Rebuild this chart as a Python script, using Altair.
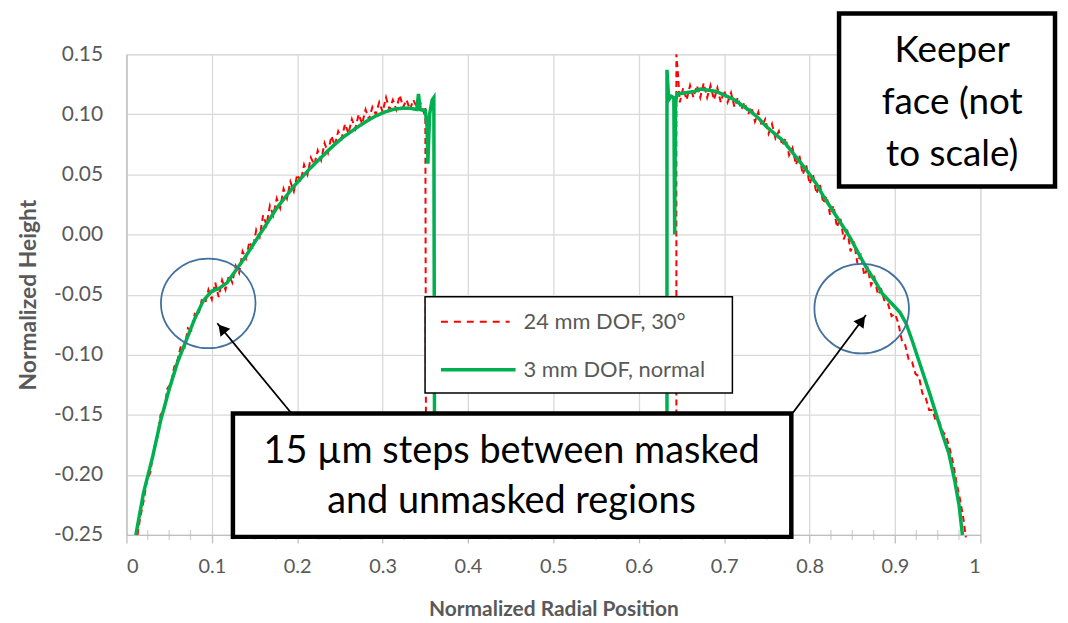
import altair as alt
import pandas as pd

# ---------------- data ----------------
green_left_x = [0.011, 0.020, 0.031, 0.040, 0.050, 0.060, 0.070, 0.080, 0.090, 0.100,
                0.108, 0.118, 0.128, 0.138, 0.147, 0.157, 0.167, 0.176, 0.186, 0.196,
                0.206, 0.215, 0.225, 0.235, 0.244, 0.254, 0.264, 0.274, 0.283, 0.293,
                0.303, 0.312, 0.322, 0.332, 0.340, 0.342, 0.344, 0.350, 0.352, 0.353,
                0.355, 0.358, 0.360, 0.361]
green_left_y = [-0.250, -0.215, -0.184, -0.155, -0.129, -0.106, -0.088, -0.070, -0.055, -0.047,
                -0.045, -0.040, -0.030, -0.020, -0.010, 0.001, 0.012, 0.022, 0.031, 0.040,
                0.048, 0.055, 0.062, 0.069, 0.075, 0.081, 0.086, 0.091, 0.095, 0.099,
                0.102, 0.104, 0.105, 0.105, 0.104, 0.117, 0.104, 0.103, 0.090, 0.059,
                0.100, 0.112, 0.114, -0.250]

green_right_x = [0.633, 0.633, 0.635, 0.638, 0.641, 0.642, 0.643, 0.645, 0.655, 0.665,
                 0.672, 0.682, 0.691, 0.700, 0.711, 0.720, 0.730, 0.740, 0.749, 0.759,
                 0.769, 0.778, 0.788, 0.798, 0.808, 0.817, 0.827, 0.837, 0.847, 0.856,
                 0.866, 0.876, 0.885, 0.897, 0.906, 0.913, 0.920, 0.927, 0.934, 0.941,
                 0.948, 0.955, 0.963, 0.970, 0.975, 0.979]
green_right_y = [-0.250, 0.137, 0.112, 0.115, 0.114, 0.000, 0.110, 0.117, 0.118, 0.119,
                 0.121, 0.120, 0.119, 0.116, 0.1125, 0.108, 0.103, 0.097, 0.090, 0.084,
                 0.078, 0.070, 0.061, 0.052, 0.042, 0.031, 0.020, 0.009, -0.002, -0.014,
                 -0.027, -0.038, -0.049, -0.058, -0.065, -0.074, -0.088, -0.103, -0.118, -0.133,
                 -0.149, -0.165, -0.182, -0.205, -0.225, -0.250]

red_left_x = [0.013, 0.016, 0.020, 0.024, 0.028, 0.032, 0.036, 0.040, 0.044, 0.048,
              0.052, 0.056, 0.060, 0.064, 0.068, 0.072, 0.076, 0.080, 0.084, 0.088,
              0.092, 0.096, 0.100, 0.104, 0.108, 0.112, 0.116, 0.120, 0.124, 0.128,
              0.132, 0.136, 0.140, 0.144, 0.148, 0.152, 0.156, 0.160, 0.164, 0.168,
              0.172, 0.176, 0.180, 0.184, 0.188, 0.192, 0.196, 0.200, 0.204, 0.208,
              0.212, 0.216, 0.220, 0.224, 0.228, 0.232, 0.236, 0.240, 0.244, 0.248,
              0.252, 0.256, 0.260, 0.264, 0.268, 0.272, 0.276, 0.280, 0.284, 0.288,
              0.292, 0.296, 0.300, 0.304, 0.308, 0.312, 0.316, 0.320, 0.324, 0.328,
              0.332, 0.336, 0.340, 0.344, 0.348, 0.350, 0.351]
red_left_y = [-0.250, -0.236, -0.222, -0.205, -0.198, -0.178, -0.170, -0.150, -0.146, -0.128,
              -0.124, -0.110, -0.104, -0.092, -0.094, -0.078, -0.080, -0.066, -0.068, -0.055,
              -0.058, -0.046, -0.054, -0.040, -0.052, -0.038, -0.046, -0.034, -0.040, -0.026,
              -0.032, -0.014, -0.020, -0.006, -0.012, 0.004, -0.002, 0.016, 0.008, 0.024,
              0.016, 0.030, 0.022, 0.038, 0.030, 0.044, 0.036, 0.050, 0.044, 0.058,
              0.050, 0.064, 0.058, 0.070, 0.062, 0.076, 0.068, 0.082, 0.074, 0.086,
              0.080, 0.092, 0.084, 0.096, 0.088, 0.100, 0.092, 0.104, 0.096, 0.106,
              0.100, 0.110, 0.102, 0.114, 0.104, 0.112, 0.104, 0.116, 0.106, 0.112,
              0.104, 0.112, 0.106, 0.110, 0.102, 0.106, -0.250]

red_right_x = [0.644, 0.644, 0.646, 0.648, 0.652, 0.656, 0.660, 0.664, 0.668, 0.672,
               0.676, 0.680, 0.684, 0.688, 0.692, 0.696, 0.700, 0.704, 0.708, 0.712,
               0.716, 0.720, 0.724, 0.728, 0.732, 0.736, 0.740, 0.744, 0.748, 0.752,
               0.756, 0.760, 0.764, 0.768, 0.772, 0.776, 0.780, 0.784, 0.788, 0.792,
               0.796, 0.800, 0.804, 0.808, 0.812, 0.816, 0.820, 0.824, 0.828, 0.832,
               0.836, 0.840, 0.844, 0.848, 0.852, 0.856, 0.860, 0.864, 0.868, 0.872,
               0.876, 0.880, 0.884, 0.888, 0.892, 0.896, 0.900, 0.904, 0.908, 0.912,
               0.916, 0.920, 0.924, 0.928, 0.932, 0.936, 0.940, 0.944, 0.948, 0.952,
               0.956, 0.960, 0.964, 0.968, 0.972, 0.976, 0.980, 0.983]
red_right_y = [-0.250, 0.150, 0.132, 0.110, 0.122, 0.112, 0.124, 0.114, 0.124, 0.114,
               0.126, 0.114, 0.124, 0.112, 0.122, 0.110, 0.120, 0.110, 0.118, 0.106,
               0.114, 0.104, 0.110, 0.100, 0.106, 0.094, 0.102, 0.090, 0.096, 0.084,
               0.092, 0.080, 0.086, 0.074, 0.080, 0.066, 0.072, 0.058, 0.066, 0.050,
               0.058, 0.042, 0.050, 0.034, 0.042, 0.026, 0.032, 0.016, 0.024, 0.006,
               0.014, -0.004, 0.004, -0.014, -0.006, -0.024, -0.016, -0.034, -0.028, -0.042,
               -0.036, -0.050, -0.046, -0.056, -0.058, -0.068, -0.066, -0.074, -0.088, -0.092,
               -0.104, -0.106, -0.116, -0.118, -0.132, -0.136, -0.146, -0.146, -0.156, -0.156,
               -0.164, -0.168, -0.178, -0.190, -0.206, -0.220, -0.236, -0.252]

x_ticks = [0, 0.1, 0.2, 0.3, 0.4, 0.5, 0.6, 0.7, 0.8, 0.9, 1.0]
y_ticks = [-0.25, -0.2, -0.15, -0.1, -0.05, 0.0, 0.05, 0.1, 0.15]
minor_x = [0.025, 0.05, 0.075, 0.125, 0.15, 0.175, 0.225, 0.25, 0.275, 0.325, 0.35, 0.375,
           0.425, 0.45, 0.475, 0.525, 0.55, 0.575, 0.625, 0.65, 0.675, 0.725, 0.75, 0.775,
           0.825, 0.85, 0.875, 0.925, 0.95, 0.975]

series_names = ["24 mm DOF, 30°", "3 mm DOF, normal"]

# annotation positions (data units)
legend_box = {"x": [0.3497], "x2": [0.7096], "y": [-0.0518], "y2": [-0.1318]}
legend_sym_x = [0.3683, 0.3683]
legend_sym_x2 = [0.4487, 0.4557]
legend_sym_y = [-0.0725, -0.1125]
legend_text_x = [0.465, 0.465]

ellipse_x = [0.0958, 0.861]
ellipse_y = [-0.0573, -0.0617]

arrow_x = [0.1927, 0.7805]
arrow_y = [-0.1483, -0.1483]
arrow_x2 = [0.1064, 0.866]
arrow_y2 = [-0.0738, -0.0669]
head_x = [0.1118, 0.8611]
head_y = [-0.0783, -0.0716]
head_angle = [320.6, 36.7]

keeper_box = {"x": [0.8345], "x2": [1.0874], "y": [0.1839], "y2": [0.040]}
keeper_lines = ["Keeper", "face (not", "to scale)"]
keeper_x = [0.967, 0.967, 0.967]
keeper_y = [0.1525, 0.1094, 0.0664]

steps_box = {"x": [0.1247], "x2": [0.7786], "y": [-0.1489], "y2": [-0.2516]}
steps_lines = ["15 µm steps between masked", "and unmasked regions"]
steps_x = [0.451, 0.451]
steps_y = [-0.1812, -0.2226]

# ---------------- build tables ----------------
def seg(xs, ys, name, s):
    return pd.DataFrame({"x": xs, "y": ys, "series": name, "seg": s, "idx": list(range(len(xs)))})

red_df = pd.concat([seg(red_left_x, red_left_y, series_names[0], "L"),
                    seg(red_right_x, red_right_y, series_names[0], "R")])
green_df = pd.concat([seg(green_left_x, green_left_y, series_names[1], "L"),
                      seg(green_right_x, green_right_y, series_names[1], "R")])
grid_df = pd.DataFrame({"x": x_ticks[:9], "y": y_ticks})
minor_df = pd.DataFrame({"x": minor_x, "y": [-0.25] * len(minor_x)})

GRAY = "#595959"
xscale = alt.Scale(domain=[0, 1], nice=False, zero=False)
yscale = alt.Scale(domain=[-0.25, 0.15], nice=False, zero=False)

x_axis = alt.Axis(values=x_ticks, format="~g", grid=True, gridColor="#d9d9d9", gridWidth=1.3,
                  domainColor="#bfbfbf", domainWidth=1.3, tickColor="#bfbfbf", tickSize=8,
                  tickWidth=1.3, labelFont="Lato", labelFontSize=20,
                  labelColor=GRAY, labelPadding=14, title="Normalized Radial Position",
                  titleFont="Lato", titleFontSize=21, titleFontWeight="bold",
                  titleColor=GRAY, titlePadding=22)
y_axis = alt.Axis(values=y_ticks, grid=True, gridColor="#d9d9d9", gridWidth=1.3,
                  domainColor="#bfbfbf", domainWidth=1.3, ticks=False, tickSize=0,
                  labelExpr="replace(format(datum.value, '.2f'), '\u2212', '-')",
                  labelFont="Lato", labelFontSize=21, labelColor=GRAY, labelPadding=24,
                  title="Normalized Height", titleFont="Lato", titleFontSize=23,
                  titleFontWeight="bold", titleColor=GRAY, titlePadding=13)

X = alt.X("x:Q", scale=xscale, axis=x_axis)
Y = alt.Y("y:Q", scale=yscale, axis=y_axis)

base_grid = alt.Chart(grid_df).mark_point(opacity=0).encode(x=X, y=Y)

minor = alt.Chart(minor_df).mark_tick(orient="vertical", size=10, thickness=1.3,
                                      color="#bfbfbf").encode(x=X, y=Y)

red = alt.Chart(red_df).mark_line(color="#ff0000", strokeWidth=2, strokeDash=[6, 4]).encode(
    x=X, y=Y, detail="seg:N", order="idx:Q")
green = alt.Chart(green_df).mark_line(color="#00b050", strokeWidth=3.5).encode(
    x=X, y=Y, detail="seg:N", order="idx:Q")

# legend
leg_box = alt.Chart(pd.DataFrame(legend_box)).mark_rect(fill="white", stroke="black",
                                                       strokeWidth=1.5).encode(
    x=X, x2="x2", y=Y, y2="y2")
leg_df = pd.DataFrame({"x": legend_sym_x, "x2": legend_sym_x2, "y": legend_sym_y,
                       "tx": legend_text_x, "label": series_names})
leg_red = alt.Chart(leg_df.iloc[[0]]).mark_rule(color="#ff0000", strokeWidth=2,
                                                strokeDash=[7, 6]).encode(x=X, x2="x2", y=Y)
leg_green = alt.Chart(leg_df.iloc[[1]]).mark_rule(color="#00b050", strokeWidth=3.5).encode(
    x=X, x2="x2", y=Y)
leg_text = alt.Chart(leg_df).mark_text(align="left", baseline="middle", font="Lato",
                                       fontSize=22, color=GRAY).encode(
    x=alt.X("tx:Q", scale=xscale, axis=x_axis), y=Y, text="label:N")

# ellipses
ell_path = "M -1 0 A 1 0.947 0 1 0 1 0 A 1 0.947 0 1 0 -1 0 Z"
ellipses = alt.Chart(pd.DataFrame({"x": ellipse_x, "y": ellipse_y})).mark_point(
    shape=ell_path, size=9025, filled=False, stroke="#41719c", strokeWidth=1.8,
    opacity=1).encode(x=X, y=Y)

# arrows
arrows = alt.Chart(pd.DataFrame({"x": arrow_x, "y": arrow_y, "x2": arrow_x2, "y2": arrow_y2})
                   ).mark_rule(color="black", strokeWidth=1.8).encode(x=X, y=Y, x2="x2", y2="y2")
heads = alt.Chart(pd.DataFrame({"x": head_x, "y": head_y, "a": head_angle})).mark_point(
    shape="triangle-up", filled=True, color="black", size=160, opacity=1).encode(
    x=X, y=Y, angle=alt.Angle("a:Q", scale=None))

# annotation boxes
k_box = alt.Chart(pd.DataFrame(keeper_box)).mark_rect(fill="white", stroke="black",
                                                      strokeWidth=4.5).encode(
    x=X, x2="x2", y=Y, y2="y2")
k_text = alt.Chart(pd.DataFrame({"x": keeper_x, "y": keeper_y, "t": keeper_lines})).mark_text(
    align="center", baseline="middle", font="Lato", fontSize=37, color="black").encode(
    x=X, y=Y, text="t:N")
s_box = alt.Chart(pd.DataFrame(steps_box)).mark_rect(fill="white", stroke="black",
                                                     strokeWidth=4.5).encode(
    x=X, x2="x2", y=Y, y2="y2")
s_text = alt.Chart(pd.DataFrame({"x": steps_x, "y": steps_y, "t": steps_lines})).mark_text(
    align="center", baseline="middle", font="Lato", fontSize=38, color="black").encode(
    x=X, y=Y, text="t:N")

chart = alt.layer(base_grid, minor, red, green, leg_box, leg_red, leg_green, leg_text,
                  ellipses, arrows, heads, k_box, k_text, s_box, s_text).properties(
    width=858, height=483,
    autosize=alt.AutoSizeParams(type="none"),
    padding={"left": 119, "top": 45, "right": 80, "bottom": 88},
).configure_view(stroke=None).configure(background="white")

chart.save("out.html", embed_options={"renderer": "svg", "actions": False})
